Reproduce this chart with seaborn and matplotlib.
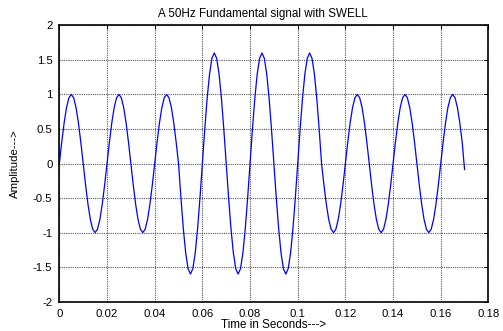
import matplotlib
matplotlib.use("Agg")
import matplotlib.pyplot as plt
import seaborn as sns
import pandas as pd

# time in milliseconds (samples every 1 ms)
time_ms = list(range(0, 171))

amplitude = [
    0.000, 0.309, 0.588, 0.809, 0.951, 1.000, 0.951, 0.809, 0.588, 0.309,
    0.000, -0.309, -0.588, -0.809, -0.951, -1.000, -0.951, -0.809, -0.588, -0.309,
    0.000, 0.309, 0.588, 0.809, 0.951, 1.000, 0.951, 0.809, 0.588, 0.309,
    0.000, -0.309, -0.588, -0.809, -0.951, -1.000, -0.951, -0.809, -0.588, -0.309,
    0.000, 0.309, 0.588, 0.809, 0.951, 1.000, 0.951, 0.809, 0.588, 0.309,
    0.000, -0.494, -0.941, -1.294, -1.522, -1.600, -1.522, -1.294, -0.941, -0.494,
    0.000, 0.494, 0.941, 1.294, 1.522, 1.600, 1.522, 1.294, 0.941, 0.494,
    0.000, -0.494, -0.941, -1.294, -1.522, -1.600, -1.522, -1.294, -0.941, -0.494,
    0.000, 0.494, 0.941, 1.294, 1.522, 1.600, 1.522, 1.294, 0.941, 0.494,
    0.000, -0.494, -0.941, -1.294, -1.522, -1.600, -1.522, -1.294, -0.941, -0.494,
    0.000, 0.494, 0.941, 1.294, 1.522, 1.600, 1.522, 1.294, 0.941, 0.494,
    0.000, -0.309, -0.588, -0.809, -0.951, -1.000, -0.951, -0.809, -0.588, -0.309,
    0.000, 0.309, 0.588, 0.809, 0.951, 1.000, 0.951, 0.809, 0.588, 0.309,
    0.000, -0.309, -0.588, -0.809, -0.951, -1.000, -0.951, -0.809, -0.588, -0.309,
    0.000, 0.309, 0.588, 0.809, 0.951, 1.000, 0.951, 0.809, 0.588, 0.309,
    0.000, -0.309, -0.588, -0.809, -0.951, -1.000, -0.951, -0.809, -0.588, -0.309,
    0.000, 0.309, 0.588, 0.809, 0.951, 1.000, 0.951, 0.809, 0.588, 0.309,
    -0.090,
]

x_ticks = [0, 0.02, 0.04, 0.06, 0.08, 0.1, 0.12, 0.14, 0.16, 0.18]
x_tick_labels = ["0", "0.02", "0.04", "0.06", "0.08", "0.1", "0.12", "0.14", "0.16", "0.18"]
y_ticks = [-2, -1.5, -1, -0.5, 0, 0.5, 1, 1.5, 2]
y_tick_labels = ["-2", "-1.5", "-1", "-0.5", "0", "0.5", "1", "1.5", "2"]

title = "A 50Hz Fundamental signal with SWELL"
xlabel = "Time in Seconds--->"
ylabel = "Amplitude--->"

sns.set_theme(style="white")
plt.rcParams["font.family"] = ["Liberation Sans", "DejaVu Sans"]

df = pd.DataFrame({"t": [v / 1000.0 for v in time_ms], "a": amplitude})

fig = plt.figure(figsize=(5.03, 3.31), dpi=100)
ax = fig.add_axes([0.118, 0.0885, 0.853, 0.835])

sns.lineplot(data=df, x="t", y="a", ax=ax, color="#0000ff", linewidth=0.9)

ax.set_xlim(0, 0.18)
ax.set_ylim(-2, 2)
ax.set_xticks(x_ticks)
ax.set_xticklabels(x_tick_labels)
ax.set_yticks(y_ticks)
ax.set_yticklabels(y_tick_labels)

ax.grid(True, color="#555555", linestyle=(0, (1, 1)), linewidth=0.8)
ax.tick_params(direction="in", length=3, width=0.7, colors="black",
               labelsize=8.2, top=True, right=True, pad=5)
for s in ax.spines.values():
    s.set_visible(True)
    s.set_color("black")
    s.set_linewidth(1.2)

ax.set_title(title, fontsize=8.4, pad=6, color="black", x=0.475)
ax.set_xlabel(xlabel, fontsize=8.4, labelpad=0, color="black")
ax.set_ylabel(ylabel, fontsize=8.2, labelpad=9, color="black")

fig.savefig("out.png", dpi=100)
